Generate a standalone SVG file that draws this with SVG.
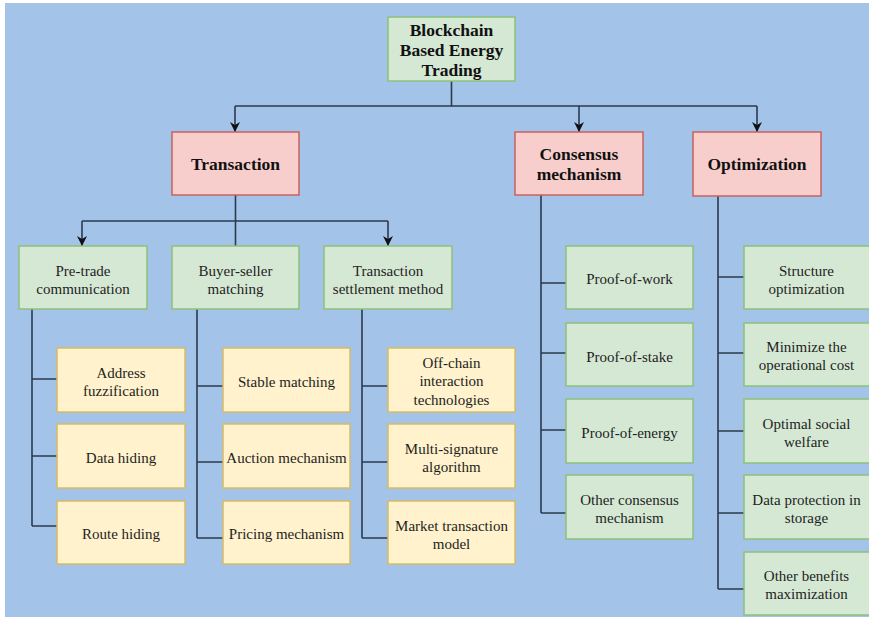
<svg xmlns="http://www.w3.org/2000/svg" width="869" height="617" viewBox="0 0 869 617" font-family="'Liberation Serif', 'DejaVu Serif', serif">
  <defs>
    <marker id="arrow" viewBox="0 0 10 10" refX="10" refY="5" markerWidth="10" markerHeight="10" markerUnits="userSpaceOnUse" orient="auto">
      <path d="M0,0 L10,5 L0,10 L3,5 Z" fill="#111"/>
    </marker>
    <style>
      .green rect { fill: #d5e8d4; stroke: #8cc07a; stroke-width: 1.5; }
      .red rect { fill: #f8cecc; stroke: #c8625e; stroke-width: 1.5; }
      .yellow rect { fill: #fff2cc; stroke: #d8bb62; stroke-width: 1.5; }
      text { font-family: "Liberation Serif", "DejaVu Serif", serif; fill: #1e1e1e; text-anchor: middle; }
      .lbl { font-size: 15px; }
      .hd { font-size: 17.5px; font-weight: bold; fill: #111; }
      #connectors path { fill: none; stroke: #2c3a4e; stroke-width: 1.6; }
      #connectors .arr { marker-end: url(#arrow); }
    </style>
  </defs>

  <!-- page -->
  <rect x="0" y="0" width="869" height="617" fill="#ffffff"/>
  <rect x="5" y="3" width="864" height="614" fill="#a3c4e8"/>

  <!-- connectors -->
  <g id="connectors">
    <path d="M451.5 81 V106 M235 106 H757"/>
    <path class="arr" d="M235 106 V132"/>
    <path class="arr" d="M579 106 V132"/>
    <path class="arr" d="M757 106 V132"/>

    <path d="M235.5 195 V246 M82 221 H388"/>
    <path class="arr" d="M82 221 V246"/>
    <path class="arr" d="M388 221 V246"/>

    <path d="M32 309 V526 M32 379 H57 M32 456 H57 M32 526 H57"/>
    <path d="M197 309 V538 M197 386 H223 M197 462 H223 M197 538 H223"/>
    <path d="M362 309 V538 M362 386 H388 M362 462 H388 M362 538 H388"/>

    <path d="M541 195 V513 M541 283 H566 M541 353 H566 M541 430 H566 M541 513 H566"/>
    <path d="M718 196 V589 M718 277 H744 M718 353 H744 M718 431 H744 M718 513 H744 M718 589 H744"/>
  </g>

  <!-- root -->
  <g id="root" class="green">
    <rect x="388" y="17" width="127" height="64"/>
    <text class="hd" x="451.5" y="36">Blockchain</text>
    <text class="hd" x="451.5" y="56">Based Energy</text>
    <text class="hd" x="451.5" y="76">Trading</text>
  </g>

  <!-- categories -->
  <g id="transaction" class="red">
    <rect x="172" y="132" width="127" height="63"/>
    <text class="hd" x="235.5" y="170">Transaction</text>
  </g>
  <g id="consensus" class="red">
    <rect x="515" y="132" width="128" height="63"/>
    <text class="hd" x="579" y="160">Consensus</text>
    <text class="hd" x="579" y="180">mechanism</text>
  </g>
  <g id="optimization" class="red">
    <rect x="693" y="132" width="128" height="64"/>
    <text class="hd" x="757" y="170">Optimization</text>
  </g>

  <!-- transaction sub-categories -->
  <g id="pre-trade" class="green">
    <rect x="19" y="246" width="128" height="63"/>
    <text class="lbl" x="83" y="276">Pre-trade</text>
    <text class="lbl" x="83" y="294">communication</text>
  </g>
  <g id="buyer-seller" class="green">
    <rect x="172" y="246" width="127" height="63"/>
    <text class="lbl" x="235.5" y="276">Buyer-seller</text>
    <text class="lbl" x="235.5" y="294">matching</text>
  </g>
  <g id="settlement" class="green">
    <rect x="324" y="246" width="128" height="63"/>
    <text class="lbl" x="388" y="276">Transaction</text>
    <text class="lbl" x="388" y="294">settlement method</text>
  </g>

  <!-- pre-trade communication -->
  <g id="address" class="yellow">
    <rect x="57" y="348" width="128" height="64"/>
    <text class="lbl" x="121" y="378">Address</text>
    <text class="lbl" x="121" y="396">fuzzification</text>
  </g>
  <g id="data-hiding" class="yellow">
    <rect x="57" y="424" width="128" height="64"/>
    <text class="lbl" x="121" y="463">Data hiding</text>
  </g>
  <g id="route-hiding" class="yellow">
    <rect x="57" y="501" width="128" height="63"/>
    <text class="lbl" x="121" y="539">Route hiding</text>
  </g>

  <!-- buyer-seller matching -->
  <g id="stable" class="yellow">
    <rect x="223" y="348" width="127" height="64"/>
    <text class="lbl" x="286.5" y="387">Stable matching</text>
  </g>
  <g id="auction" class="yellow">
    <rect x="223" y="424" width="127" height="64"/>
    <text class="lbl" x="286.5" y="463">Auction mechanism</text>
  </g>
  <g id="pricing" class="yellow">
    <rect x="223" y="501" width="127" height="63"/>
    <text class="lbl" x="286.5" y="539">Pricing mechanism</text>
  </g>

  <!-- transaction settlement method -->
  <g id="off-chain" class="yellow">
    <rect x="388" y="348" width="127" height="64"/>
    <text class="lbl" x="451.5" y="368">Off-chain</text>
    <text class="lbl" x="451.5" y="386">interaction</text>
    <text class="lbl" x="451.5" y="404.5">technologies</text>
  </g>
  <g id="multisig" class="yellow">
    <rect x="388" y="424" width="127" height="64"/>
    <text class="lbl" x="451.5" y="454">Multi-signature</text>
    <text class="lbl" x="451.5" y="472">algorithm</text>
  </g>
  <g id="market" class="yellow">
    <rect x="388" y="501" width="127" height="63"/>
    <text class="lbl" x="451.5" y="531">Market transaction</text>
    <text class="lbl" x="451.5" y="548.5">model</text>
  </g>

  <!-- consensus mechanisms -->
  <g id="pow" class="green">
    <rect x="566" y="246" width="127" height="63"/>
    <text class="lbl" x="629.5" y="284">Proof-of-work</text>
  </g>
  <g id="pos" class="green">
    <rect x="566" y="323" width="127" height="63"/>
    <text class="lbl" x="629.5" y="362">Proof-of-stake</text>
  </g>
  <g id="poe" class="green">
    <rect x="566" y="399" width="127" height="64"/>
    <text class="lbl" x="629.5" y="438">Proof-of-energy</text>
  </g>
  <g id="other-consensus" class="green">
    <rect x="566" y="475" width="127" height="64"/>
    <text class="lbl" x="629.5" y="505">Other consensus</text>
    <text class="lbl" x="629.5" y="523">mechanism</text>
  </g>

  <!-- optimization goals -->
  <g id="structure" class="green">
    <rect x="744" y="246" width="130" height="63"/>
    <text class="lbl" x="806.5" y="276">Structure</text>
    <text class="lbl" x="806.5" y="293.5">optimization</text>
  </g>
  <g id="op-cost" class="green">
    <rect x="744" y="323" width="130" height="63"/>
    <text class="lbl" x="806.5" y="352">Minimize the</text>
    <text class="lbl" x="806.5" y="370">operational cost</text>
  </g>
  <g id="welfare" class="green">
    <rect x="744" y="399" width="130" height="64"/>
    <text class="lbl" x="806.5" y="429">Optimal social</text>
    <text class="lbl" x="806.5" y="447">welfare</text>
  </g>
  <g id="data-protection" class="green">
    <rect x="744" y="475" width="130" height="64"/>
    <text class="lbl" x="806.5" y="505">Data protection in</text>
    <text class="lbl" x="806.5" y="523">storage</text>
  </g>
  <g id="other-benefits" class="green">
    <rect x="744" y="552" width="130" height="63"/>
    <text class="lbl" x="806.5" y="581">Other benefits</text>
    <text class="lbl" x="806.5" y="599">maximization</text>
  </g>
</svg>
